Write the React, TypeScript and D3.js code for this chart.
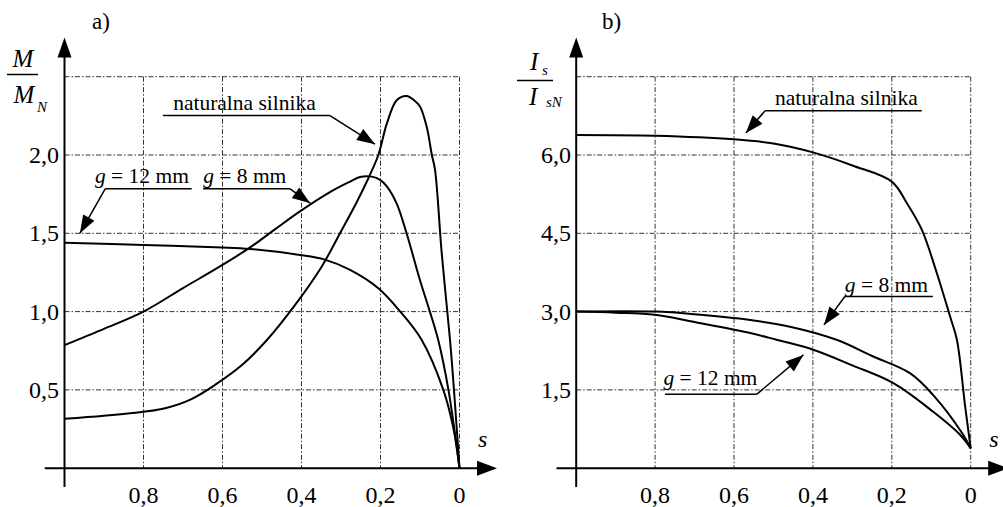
import React from "react";
import * as d3 from "d3";

// slip values (x axis runs from 1 on the left to 0 on the right)
const sTicks = [0.8, 0.6, 0.4, 0.2, 0];
const sTickLabels = ["0,8", "0,6", "0,4", "0,2", "0"];

// panel a) torque M/MN
const torqueTicks = [0.5, 1.0, 1.5, 2.0];
const torqueTickLabels = ["0,5", "1,0", "1,5", "2,0"];
const torqueNatural: [number, number][] = [
  [1.0, 0.315], [0.9, 0.335], [0.8, 0.36], [0.745, 0.383], [0.68, 0.44],
  [0.62, 0.53], [0.55, 0.66], [0.487, 0.82], [0.42, 1.03], [0.349, 1.287],
  [0.3025, 1.5], [0.26, 1.7], [0.231, 1.85], [0.2055, 2.0], [0.184, 2.2],
  [0.159, 2.35], [0.134, 2.377], [0.115, 2.35], [0.1, 2.31], [0.083, 2.18],
  [0.07, 2.0], [0.062, 1.906], [0.045, 1.373], [0.024, 0.82], [0.014, 0.5],
  [0, 0],
];
const torqueG8: [number, number][] = [
  [1.0, 0.786], [0.9, 0.89], [0.8, 1.0], [0.7, 1.15], [0.6, 1.298],
  [0.53, 1.41], [0.47, 1.52], [0.404, 1.64], [0.33, 1.76], [0.277, 1.83],
  [0.252, 1.86], [0.222, 1.862], [0.2, 1.84], [0.184, 1.8], [0.159, 1.69],
  [0.134, 1.5], [0.1, 1.2], [0.075, 1.0], [0.054, 0.82], [0.028, 0.5],
  [0, 0],
];
const torqueG12: [number, number][] = [
  [1.0, 1.44], [0.8, 1.426], [0.6, 1.41], [0.53, 1.4], [0.404, 1.362],
  [0.345, 1.335], [0.277, 1.266], [0.2055, 1.149], [0.15, 1.0],
  [0.096, 0.82], [0.041, 0.5], [0.015, 0.25], [0, 0],
];

// panel b) current Is/IsN
const currentTicks = [1.5, 3.0, 4.5, 6.0];
const currentTickLabels = ["1,5", "3,0", "4,5", "6,0"];
const currentNatural: [number, number][] = [
  [1.0, 6.385], [0.8, 6.37], [0.6, 6.3], [0.5, 6.22], [0.4, 6.05],
  [0.3, 5.8], [0.2, 5.49], [0.162, 5.08], [0.124, 4.57],
  [0.086, 3.74], [0.052, 2.9], [0.035, 2.46], [0.014, 1.18], [0, 0.38],
];
const currentG8: [number, number][] = [
  [1.0, 3.0], [0.8, 3.0], [0.7, 2.95], [0.559, 2.84], [0.458, 2.71],
  [0.34, 2.46], [0.25, 2.15], [0.154, 1.82], [0.095, 1.4],
  [0.019, 0.64], [0, 0.38],
];
const currentG12: [number, number][] = [
  [1.0, 3.0], [0.9, 2.98], [0.8, 2.94], [0.7, 2.8], [0.559, 2.59],
  [0.492, 2.46], [0.399, 2.27], [0.3, 1.97], [0.196, 1.63], [0.095, 1.08],
  [0.027, 0.64], [0, 0.38],
];

type Note = {
  label: "nat" | "g8" | "g12";
  textS: number; textV: number;
  lineS0: number; lineS1: number; lineV: number;
  elbowS: number; tipS: number; tipV: number;
};

const torqueNotes: Note[] = [
  { label: "nat", textS: 0.725, textV: 2.288, lineS0: 0.751, lineS1: 0.328, lineV: 2.252, elbowS: 0.328, tipS: 0.214, tipV: 2.069 },
  { label: "g12", textS: 0.923, textV: 1.82, lineS0: 0.897, lineS1: 0.678, lineV: 1.784, elbowS: 0.897, tipS: 0.961, tipV: 1.5 },
  { label: "g8", textS: 0.649, textV: 1.82, lineS0: 0.649, lineS1: 0.429, lineV: 1.784, elbowS: 0.429, tipS: 0.378, tipV: 1.692 },
];
const currentNotes: Note[] = [
  { label: "nat", textS: 0.496, textV: 6.96, lineS0: 0.521, lineS1: 0.124, lineV: 6.85, elbowS: 0.521, tipS: 0.57, tipV: 6.42 },
  { label: "g8", textS: 0.319, textV: 3.38, lineS0: 0.319, lineS1: 0.096, lineV: 3.29, elbowS: 0.319, tipS: 0.372, tipV: 2.745 },
  { label: "g12", textS: 0.779, textV: 1.596, lineS0: 0.775, lineS1: 0.542, lineV: 1.418, elbowS: 0.542, tipS: 0.424, tipV: 2.17 },
];

const FONT = '"Liberation Serif", serif';
const GRID_DASH = "5,2,1.5,2";

const arrowHead = (x0: number, y0: number, x1: number, y1: number, len: number, half: number) => {
  const a = Math.atan2(y1 - y0, x1 - x0);
  const bx = x1 - len * Math.cos(a);
  const by = y1 - len * Math.sin(a);
  const px = -Math.sin(a) * half;
  const py = Math.cos(a) * half;
  return `${x1},${y1} ${bx + px},${by + py} ${bx - px},${by - py}`;
};

const NoteText = ({ label, x, y }: { label: string; x: number; y: number }) => {
  if (label === "nat") {
    return <text x={x} y={y} fontSize={21.5}>naturalna silnika</text>;
  }
  return (
    <text x={x} y={y} fontSize={21.5}>
      <tspan fontStyle="italic">g</tspan>
      {label === "g8" ? " = 8 mm" : " = 12 mm"}
    </text>
  );
};

type PanelProps = {
  x0: number; x1: number; yTop: number; yBottom: number;
  vMax: number;
  ticks: number[]; tickLabels: string[];
  series: [number, number][][];
  notes: Note[];
  title: string; titleX: number;
  tickLabelX: number;
  yLabel: React.ReactNode;
};

const Panel = (p: PanelProps) => {
  const x = d3.scaleLinear().domain([1, 0]).range([p.x0, p.x1]);
  const y = d3.scaleLinear().domain([0, p.vMax]).range([p.yBottom, p.yTop]);
  const line = d3
    .line<[number, number]>()
    .x(d => x(d[0]))
    .y(d => y(d[1]))
    .curve(d3.curveCatmullRom.alpha(0.5));

  const hGrid = [...p.ticks, p.vMax];
  const axisLeftX = x(1);
  const axisY = y(0);
  const xAxisStart = x(1.05);
  const xAxisTip = x(-0.095);
  const yAxisTip = y(p.vMax * 1.1);
  const yAxisEnd = y(-p.vMax * 0.048);

  return (
    <g style={{ fontFamily: FONT }} fill="#000">
      {/* grid */}
      {hGrid.map(v => (
        <line key={"h" + v} x1={x(1)} x2={x(0)} y1={y(v)} y2={y(v)}
          stroke="#333" strokeWidth={1} strokeDasharray={GRID_DASH} />
      ))}
      {sTicks.map(s => (
        <line key={"v" + s} x1={x(s)} x2={x(s)} y1={y(p.vMax)} y2={axisY}
          stroke="#333" strokeWidth={1} strokeDasharray={GRID_DASH} />
      ))}

      {/* axes */}
      <line x1={xAxisStart} x2={xAxisTip - 15} y1={axisY} y2={axisY} stroke="#000" strokeWidth={2} />
      <polygon points={arrowHead(xAxisStart, axisY, xAxisTip, axisY, 20, 7.5)} fill="#000" />
      <line x1={axisLeftX} x2={axisLeftX} y1={yAxisEnd} y2={yAxisTip + 15} stroke="#000" strokeWidth={2} />
      <polygon points={arrowHead(axisLeftX, yAxisEnd, axisLeftX, yAxisTip, 20, 7)} fill="#000" />

      {/* tick labels */}
      {sTicks.map((s, i) => (
        <text key={"xt" + s} x={x(s)} y={503} fontSize={24} textAnchor="middle">{sTickLabels[i]}</text>
      ))}
      {p.ticks.map((v, i) => (
        <text key={"yt" + v} x={p.tickLabelX} y={y(v) + 8} fontSize={24} textAnchor="end">{p.tickLabels[i]}</text>
      ))}

      <text x={xAxisTip - 19} y={447} fontSize={24} fontStyle="italic">s</text>
      <text x={p.titleX} y={29} fontSize={23}>{p.title}</text>
      {p.yLabel}

      {/* curves */}
      {p.series.map((d, i) => (
        <path key={"c" + i} d={line(d) ?? ""} fill="none" stroke="#000" strokeWidth={2} />
      ))}

      {/* annotations */}
      {p.notes.map((n, i) => {
        const ex = x(n.elbowS);
        const ly = y(n.lineV);
        const tx = x(n.tipS);
        const ty = y(n.tipV);
        return (
          <g key={"n" + i}>
            <NoteText label={n.label} x={x(n.textS)} y={y(n.textV)} />
            <line x1={x(n.lineS0)} x2={x(n.lineS1)} y1={ly} y2={ly} stroke="#000" strokeWidth={1.5} />
            <line x1={ex} y1={ly} x2={tx} y2={ty} stroke="#000" strokeWidth={1.5} />
            <polygon points={arrowHead(ex, ly, tx, ty, 18, 6.5)} fill="#000" />
          </g>
        );
      })}
    </g>
  );
};

export default function App() {
  const torqueLabel = (
    <g style={{ fontFamily: FONT, fontStyle: "italic" }}>
      <text x={23} y={66.5} fontSize={25} textAnchor="middle">M</text>
      <line x1={7} x2={38} y1={74.5} y2={74.5} stroke="#000" strokeWidth={1.5} />
      <text x={24} y={103} fontSize={25} textAnchor="middle">M</text>
      <text x={37} y={111.5} fontSize={15}>N</text>
    </g>
  );
  const currentLabel = (
    <g style={{ fontFamily: FONT, fontStyle: "italic" }}>
      <text x={530} y={70} fontSize={25}>I</text>
      <text x={542} y={75} fontSize={15}>s</text>
      <line x1={517} x2={553} y1={80.5} y2={80.5} stroke="#000" strokeWidth={1.5} />
      <text x={529} y={105} fontSize={25}>I</text>
      <text x={546} y={107} fontSize={15}>sN</text>
    </g>
  );

  return (
    <svg width={1003} height={507} style={{ position: "absolute", left: 0, top: 0, background: "#fff" }}>
      <rect width={1003} height={507} fill="#fff" />
      <Panel
        x0={64.5} x1={459.5} yTop={76.7} yBottom={468.2} vMax={2.5}
        ticks={torqueTicks} tickLabels={torqueTickLabels}
        series={[torqueNatural, torqueG8, torqueG12]}
        notes={torqueNotes}
        title="a)" titleX={92} tickLabelX={59}
        yLabel={torqueLabel}
      />
      <Panel
        x0={576.2} x1={970.7} yTop={76.7} yBottom={468.2} vMax={7.5}
        ticks={currentTicks} tickLabels={currentTickLabels}
        series={[currentNatural, currentG8, currentG12]}
        notes={currentNotes}
        title="b)" titleX={602} tickLabelX={571}
        yLabel={currentLabel}
      />
    </svg>
  );
}
